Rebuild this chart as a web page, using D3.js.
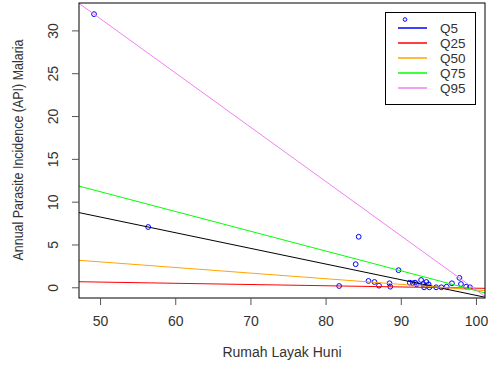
<!DOCTYPE html>
<html>
<head>
<meta charset="utf-8">
<script src="https://cdn.jsdelivr.net/npm/d3@7"></script>
<style>
  body { margin: 0; background: #fff; }
  text { font-family: "Liberation Sans", Arial, sans-serif; fill: #333; }
</style>
</head>
<body>
<script>
var w = 489;
var h = 367;

// observations
var rumah = [49.2, 56.4, 84.4, 84.0, 89.7, 81.8, 85.7, 86.5, 87.1, 88.5, 88.6,
  91.2, 91.6, 91.9, 92.1, 92.7, 93.0, 93.4, 93.7, 93.1, 93.8, 94.7, 95.4, 96.1,
  96.8, 97.8, 98.0, 98.7, 99.2];
var api = [31.9, 7.04, 5.9, 2.7, 2.0, 0.15, 0.74, 0.62, 0.19, 0.47, 0.07,
  0.54, 0.47, 0.54, 0.35, 0.85, 0.38, 0.62, 0.35, 0.0, 0.0, 0.0, 0.0, 0.07,
  0.47, 1.1, 0.38, 0.07, 0.0];

// fitted lines
var fitNames = ["Q5", "Q25", "Q50", "Q75", "Q95"];
var fitColors = ["black", "#ff0000", "#ffa500", "#00ff00", "#ee82ee"];
var legendColors = ["#0000ff", "#ff0000", "#ffa500", "#00ff00", "#ee82ee"];
var intercepts = [17.36, 1.325, 6.25, 22.72, 63.09];
var slopes = [-0.183, -0.0143, -0.0656, -0.231, -0.634];

var xTicks = [50, 60, 70, 80, 90, 100];
var yTicks = [0, 5, 10, 15, 20, 25, 30];

var pLeft = 79, pRight = 485, pTop = 3, pBottom = 298;

var x = d3.scaleLinear().domain([47.2, 101.2]).range([pLeft, pRight]);
var y = d3.scaleLinear().domain([-1.25, 33.2]).range([pBottom, pTop]);

var svg = d3.select("body").append("svg").attr("width", w).attr("height", h);

svg.append("clipPath").attr("id", "plotclip")
  .append("rect").attr("x", pLeft).attr("y", pTop)
  .attr("width", pRight - pLeft).attr("height", pBottom - pTop);

var plot = svg.append("g").attr("clip-path", "url(#plotclip)");

// points
plot.selectAll("circle.pt").data(rumah).enter()
  .append("circle")
  .attr("class", "pt")
  .attr("cx", function(d) { return x(d); })
  .attr("cy", function(d, i) { return y(api[i]); })
  .attr("r", 2.4)
  .attr("fill", "none")
  .attr("stroke", "#0000ff")
  .attr("stroke-width", 1);

// regression lines
var xd = x.domain();
plot.selectAll("line.fit").data(fitNames).enter()
  .append("line")
  .attr("class", "fit")
  .attr("x1", x(xd[0]))
  .attr("x2", x(xd[1]))
  .attr("y1", function(d, i) { return y(intercepts[i] + slopes[i] * xd[0]); })
  .attr("y2", function(d, i) { return y(intercepts[i] + slopes[i] * xd[1]); })
  .attr("stroke", function(d, i) { return fitColors[i]; })
  .attr("stroke-width", 1);

// box
svg.append("rect").attr("x", pLeft).attr("y", pTop)
  .attr("width", pRight - pLeft).attr("height", pBottom - pTop)
  .attr("fill", "none").attr("stroke", "black").attr("stroke-width", 1);

// x axis
var xAxis = svg.append("g").attr("transform", "translate(0," + pBottom + ")")
  .call(d3.axisBottom(x).tickValues(xTicks).tickSize(7).tickPadding(11));
xAxis.select(".domain").remove();
xAxis.selectAll(".tick line").attr("stroke", "#555");
xAxis.selectAll(".tick text").attr("font-size", 14).attr("fill", "#333")
  .attr("font-family", "Liberation Sans, Arial, sans-serif");

// y axis
var yAxis = svg.append("g").attr("transform", "translate(" + pLeft + ",0)")
  .call(d3.axisLeft(y).tickValues(yTicks).tickSize(7));
yAxis.select(".domain").remove();
yAxis.selectAll(".tick line").attr("stroke", "#555");
yAxis.selectAll(".tick text")
  .attr("x", 0).attr("dy", 0)
  .attr("transform", "translate(-21,0) rotate(-90)")
  .attr("text-anchor", "middle")
  .attr("font-size", 14).attr("fill", "#333")
  .attr("font-family", "Liberation Sans, Arial, sans-serif");

// titles
svg.append("text")
  .attr("x", (pLeft + pRight) / 2).attr("y", 356.5)
  .attr("text-anchor", "middle").attr("font-size", 14)
  .text("Rumah Layak Huni");

svg.append("text")
  .attr("transform", "translate(23," + 150 + ") rotate(-90)")
  .attr("text-anchor", "middle").attr("font-size", 14)
  .attr("textLength", 221).attr("lengthAdjust", "spacingAndGlyphs")
  .text("Annual Parasite Incidence (API) Malaria");

// legend
var lg = svg.append("g");
lg.append("rect").attr("x", 385.5).attr("y", 12.5).attr("width", 90).attr("height", 92)
  .attr("fill", "white").attr("stroke", "black").attr("stroke-width", 1);
lg.append("circle").attr("cx", 405).attr("cy", 19.5).attr("r", 1.8)
  .attr("fill", "none").attr("stroke", "#0000ff");
var rows = lg.selectAll("g.row").data(fitNames).enter()
  .append("g").attr("class", "row")
  .attr("transform", function(d, i) { return "translate(0," + (28 + i * 15) + ")"; });
rows.append("line").attr("x1", 398).attr("x2", 427).attr("y1", 0).attr("y2", 0)
  .attr("stroke", function(d, i) { return legendColors[i]; }).attr("stroke-width", 1.5);
rows.append("text").attr("x", 440).attr("y", 5).attr("font-size", 13.5)
  .text(function(d) { return d; });
</script>
</body>
</html>
